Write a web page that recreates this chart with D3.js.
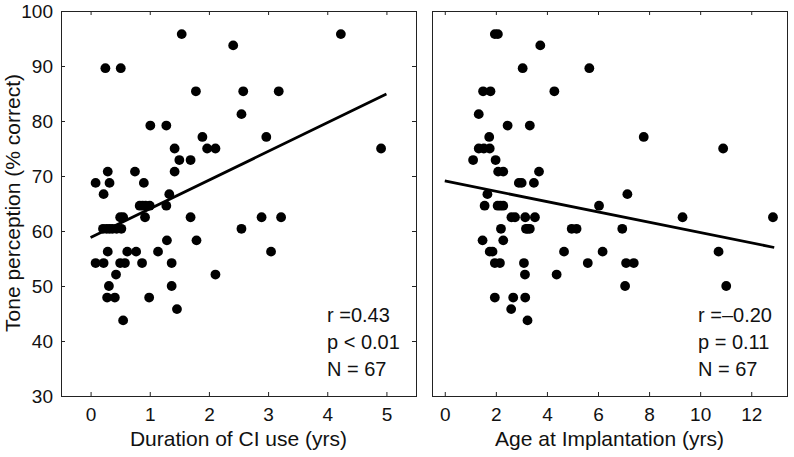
<!DOCTYPE html>
<html><head><meta charset="utf-8">
<script src="https://cdn.jsdelivr.net/npm/d3@7"></script>
<style>
html,body{margin:0;padding:0;background:#fff;}
text{font-family:"Liberation Sans",Arial,Helvetica,sans-serif;fill:#111;}
</style></head>
<body><svg id="chart" width="794" height="457"></svg>
<script>
// ---- data ----
const durationYrs = [1.54,4.23,2.41,0.25,0.51,1.78,2.58,3.18,2.55,1.01,1.28,1.89,2.97,1.42,1.97,2.11,4.91,1.50,1.69,0.29,0.75,1.42,0.085,0.32,0.90,0.22,1.33,0.83,0.88,0.93,1.00,1.28,0.50,0.55,0.92,1.69,2.89,3.22,0.21,0.27,0.32,0.37,0.44,0.52,2.55,1.29,1.79,3.05,0.29,0.62,0.77,1.14,0.085,0.22,0.50,0.58,0.87,1.37,0.43,2.11,0.31,1.37,0.28,0.41,0.99,1.46,0.55];
const durationScore = [95.8,95.8,93.75,89.6,89.6,85.4,85.4,85.4,81.25,79.17,79.17,77.1,77.1,75,75,75,75,72.9,72.9,70.8,70.8,70.8,68.75,68.75,68.75,66.7,66.7,64.6,64.6,64.6,64.6,64.6,62.5,62.5,62.5,62.5,62.5,62.5,60.4,60.4,60.4,60.4,60.4,60.4,60.4,58.3,58.3,56.25,56.25,56.25,56.25,56.25,54.17,54.17,54.17,54.17,54.17,54.17,52.08,52.08,50,50,47.9,47.9,47.9,45.8,43.75];
const ageYrs = [1.96,2.08,3.74,3.05,5.66,1.50,1.79,4.29,1.33,2.46,3.33,1.74,7.79,1.33,1.53,1.76,10.9,1.11,1.99,2.09,2.29,3.69,2.90,3.01,3.49,1.67,7.15,1.56,2.07,2.18,2.29,6.04,2.61,2.75,3.15,3.53,9.31,12.85,2.20,3.18,3.25,3.33,4.97,5.16,6.95,1.48,2.29,1.76,1.87,4.67,6.18,10.72,1.96,2.16,3.10,5.60,7.10,7.40,3.14,4.38,7.06,11.02,1.96,2.68,3.15,2.60,3.24];
const ageScore = [95.8,95.8,93.75,89.6,89.6,85.4,85.4,85.4,81.25,79.17,79.17,77.1,77.1,75,75,75,75,72.9,72.9,70.8,70.8,70.8,68.75,68.75,68.75,66.7,66.7,64.6,64.6,64.6,64.6,64.6,62.5,62.5,62.5,62.5,62.5,62.5,60.4,60.4,60.4,60.4,60.4,60.4,60.4,58.3,58.3,56.25,56.25,56.25,56.25,56.25,54.17,54.17,54.17,54.17,54.17,54.17,52.08,52.08,50,50,47.9,47.9,47.9,45.8,43.75];
const fitDuration = {x:[0,5], intercept:58.8, slope:5.22};
const fitAge = {x:[0,12.9], intercept:69.1, slope:-0.938};
const yTicks = [30,40,50,60,70,80,90,100];
const xTicksDuration = [0,1,2,3,4,5];
const xTicksAge = [0,2,4,6,8,10,12];
const statsDuration = ["r =0.43","p < 0.01","N = 67"];
const statsAge = ["r =\u20130.20","p = 0.11","N = 67"];
const yTitle = "Tone perception (% correct)";
const xTitleDuration = "Duration of CI use (yrs)";
const xTitleAge = "Age at Implantation (yrs)";

// ---- drawing ----
const svg = d3.select("#chart");
const plotTop = 11, plotBottom = 396;
const y = d3.scaleLinear().domain([30,100]).range([plotBottom, plotTop]);

function panel(opts){
  const x = d3.scaleLinear().domain(opts.xDomain).range(opts.xRange);
  const g = svg.append("g");
  const [x0,x1] = opts.xRange;
  g.append("g").selectAll("circle").data(opts.xs.map((v,i)=>[v,opts.ys[i]]))
    .join("circle").attr("cx",d=>x(d[0])).attr("cy",d=>y(d[1])).attr("r",4.9).attr("fill","#000");
  const f = opts.fit;
  g.append("line").attr("x1",x(f.x[0])).attr("y1",y(f.intercept+f.slope*f.x[0]))
    .attr("x2",x(f.x[1])).attr("y2",y(f.intercept+f.slope*f.x[1]))
    .attr("stroke","#000").attr("stroke-width",2.8);
  const ax = g.append("g").attr("transform",`translate(0,${plotBottom})`)
    .call(d3.axisBottom(x).tickValues(opts.xTicks).tickSize(-4).tickPadding(12).tickFormat(d3.format("d")));
  ax.selectAll("text").attr("font-size",19);
  g.append("g").attr("transform",`translate(0,${plotTop})`)
    .call(d3.axisTop(x).tickValues(opts.xTicks).tickSize(-4).tickFormat(""));
  if(opts.yTicks){
    const ay = g.append("g").attr("transform",`translate(${x0},0)`)
      .call(d3.axisLeft(y).tickValues(yTicks).tickSize(-4).tickPadding(8).tickFormat(d3.format("d")));
    ay.selectAll("text").attr("font-size",19);
    g.append("g").attr("transform",`translate(${x1},0)`)
      .call(d3.axisRight(y).tickValues(yTicks).tickSize(-4).tickFormat(""));
  }
  g.selectAll(".domain").remove();
  g.selectAll(".tick line").attr("stroke","#222");
  g.append("rect").attr("x",x0+0.5).attr("y",plotTop+0.5).attr("width",x1-x0).attr("height",plotBottom-plotTop)
    .attr("fill","none").attr("stroke","#222").attr("stroke-width",1);
  g.append("g").selectAll("text").data(opts.stats).join("text")
    .attr("x",opts.statsX).attr("y",(d,i)=>322+i*26.8).attr("font-size",20).text(d=>d);
  g.append("text").attr("x",(x0+x1)/2).attr("y",446).attr("text-anchor","middle")
    .attr("font-size",21).text(opts.xTitle);
}

panel({xDomain:[-0.5,5.5], xRange:[61,416], xs:durationYrs, ys:durationScore, fit:fitDuration,
  xTicks:xTicksDuration, yTicks:true, stats:statsDuration, statsX:327, xTitle:xTitleDuration});
panel({xDomain:[-0.5,13.4], xRange:[432,787], xs:ageYrs, ys:ageScore, fit:fitAge,
  xTicks:xTicksAge, yTicks:false, stats:statsAge, statsX:698, xTitle:xTitleAge});

svg.append("text").attr("transform","translate(20,203) rotate(-90)").attr("text-anchor","middle")
  .attr("font-size",21).text(yTitle);
</script></body></html>
